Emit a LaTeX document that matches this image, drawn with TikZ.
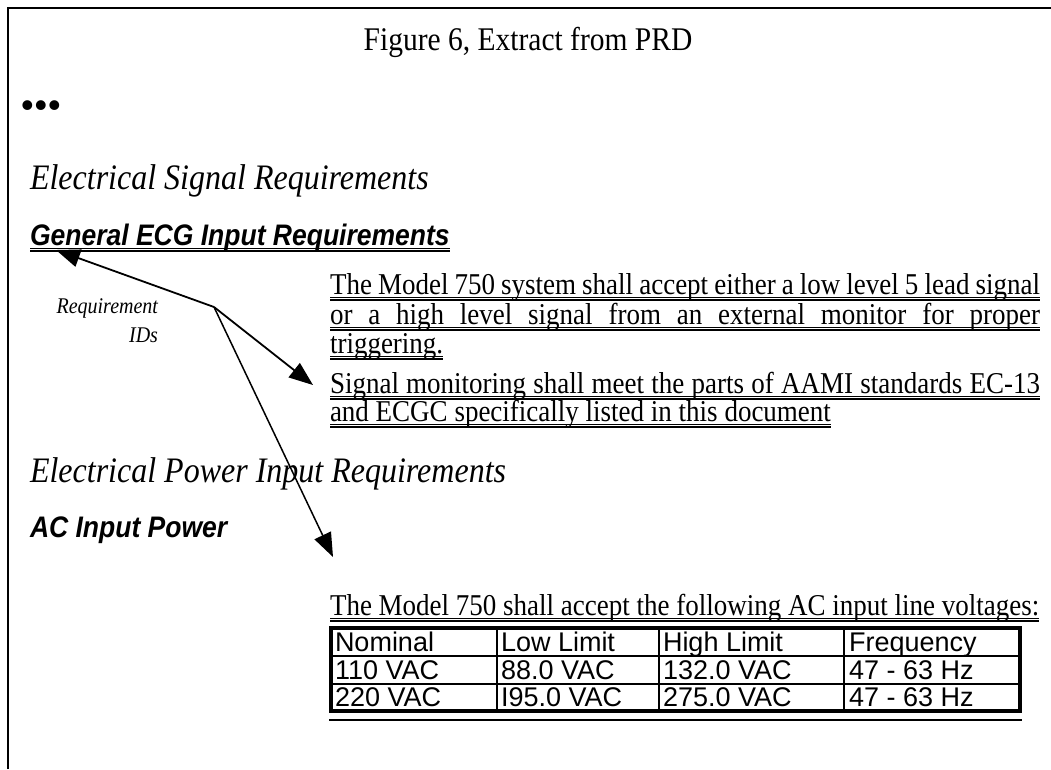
\documentclass[tikz,border=0pt]{standalone}
\usepackage{graphicx}
\usepackage{fontspec}
\setmainfont{Liberation Serif}
\setsansfont{Liberation Sans}
\usetikzlibrary{arrows.meta}
\tikzset{
  txt/.style={inner sep=0pt, outer sep=0pt, anchor=base west},
  body/.style={txt, font=\fontsize{27}{31}\selectfont},
  head/.style={txt, font=\fontsize{32}{36}\selectfont\itshape},
  shead/.style={txt, font=\fontsize{26.5}{30}\selectfont\sffamily\bfseries\itshape},
  cell/.style={txt, font=\fontsize{27}{29}\selectfont\sffamily},
  ulA/.style={line width=1pt},
  ulB/.style={line width=1.6pt},
  ptr/.style={line width=1.8pt, -{Triangle[length=24pt,width=18pt]}},
  frame/.style={line width=2pt},
  tbl/.style={line width=4.5pt},
  tblin/.style={line width=2.8pt},
}
\newcommand\tallt[1]{\scalebox{1}[1.12]{#1}}
\newcommand\ulnode[1]{%
  \draw[ulA] ([yshift=-3.5pt]#1.base west) -- ([yshift=-3.5pt]#1.base east);
  \draw[ulB] ([yshift=-6pt]#1.base west) -- ([yshift=-6pt]#1.base east);}
\begin{document}
\begin{tikzpicture}[x=1pt,y=1pt]
\useasboundingbox (0,0) rectangle (1051,-769);
% frame
\draw[frame] (8,-769) -- (8,-8) -- (1051,-8);
% title
\node[inner sep=0pt, anchor=base, font=\fontsize{29.5}{34}\selectfont] (title) at (528,-50) {\tallt{Figure 6, Extract from PRD}};
% dots
\node[txt, font=\fontsize{36}{38}\selectfont\bfseries] (dots) at (21,-117) {•\kern1pt•\kern1pt•};
% headings
\node[head] (esr) at (30,-189) {\tallt{Electrical Signal Requirements}};
\node[shead] (gecg) at (30,-245) {\tallt{General ECG Input Requirements}};
\ulnode{gecg}
\node[txt, anchor=base east, align=right, font=\fontsize{20}{29}\selectfont\itshape] (req) at (158,-342) {\tallt{Requirement}\\\tallt{IDs}};
% paragraph 1
\node[body] (p1a) at (330,-294) {\tallt{\makebox[710pt][s]{The Model 750 system shall accept either a low level 5 lead signal}}};
\node[body] (p1b) at (330,-324) {\tallt{\makebox[710pt][s]{or a high level signal from an external monitor for proper}}};
\node[body] (p1c) at (330,-353) {\tallt{triggering.}};
\ulnode{p1a}\ulnode{p1b}\ulnode{p1c}
% paragraph 2
\node[body] (p2a) at (330,-393) {\tallt{\makebox[710pt][s]{Signal monitoring shall meet the parts of AAMI standards EC-13}}};
\node[body] (p2b) at (330,-421) {\tallt{and ECGC specifically listed in this document}};
\ulnode{p2a}\ulnode{p2b}
% power headings
\node[head] (epr) at (30,-482) {\tallt{Electrical Power Input Requirements}};
\node[shead] (acp) at (30,-537) {\tallt{AC Input Power}};
\node[body] (p3) at (330,-615) {\tallt{The Model 750 shall accept the following AC input line voltages:}};
\ulnode{p3}
% table
\coordinate (tl) at (331,-628);
\coordinate (br) at (1020,-711);
\draw[tblin] (331,-656) -- (1020,-656);
\draw[tblin] (331,-684) -- (1020,-684);
\draw[tblin] (497,-628) -- (497,-711);
\draw[tblin] (659,-628) -- (659,-711);
\draw[tblin] (844,-628) -- (844,-711);
\draw[tbl] (tl) rectangle (br);
\draw[line width=1.8pt] (329,-720) -- (1022,-720);
\node[cell] (c11) at (335,-651) {Nominal};
\node[cell] (c12) at (501,-651) {Low Limit};
\node[cell] (c13) at (663,-651) {High Limit};
\node[cell] (c14) at (849,-651) {Frequency};
\node[cell] (c21) at (335,-679) {110 VAC};
\node[cell] (c22) at (501,-679) {88.0 VAC};
\node[cell] (c23) at (663,-679) {132.0 VAC};
\node[cell] (c24) at (849,-679) {47 - 63 Hz};
\node[cell] (c31) at (335,-706) {220 VAC};
\node[cell] (c32) at (501,-706) {I95.0 VAC};
\node[cell] (c33) at (663,-706) {275.0 VAC};
\node[cell] (c34) at (849,-706) {47 - 63 Hz};
% arrows
\coordinate (hub) at (214,-307);
\coordinate (tipA) at (56,-250);
\coordinate (tipB) at (313,-385);
\coordinate (tipC) at (333,-557);
\draw[ptr] (hub) -- (tipA);
\draw[ptr] (hub) -- (tipB);
\draw[ptr, line width=1.5pt] (hub) -- (tipC);
\end{tikzpicture}
\end{document}
